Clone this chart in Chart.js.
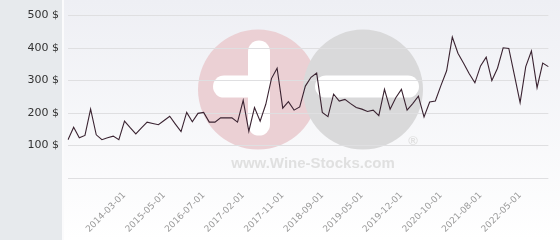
<!DOCTYPE html>
<html>
<head>
<meta charset="utf-8">
<script src="https://cdn.jsdelivr.net/npm/chart.js@4"></script>
<style>
  html, body { margin: 0; padding: 0; background: #fff; }
  #wrap { width: 560px; height: 240px; position: relative; }
</style>
</head>
<body>
<div id="wrap"><canvas id="price-chart"></canvas></div>
<script>
// sale dates (one point per auction result)
const dates = [
  '2012-10-01', '2012-11-01', '2012-12-01', '2013-02-01', '2013-04-01', '2013-05-01', '2013-07-01', '2013-09-01', '2013-11-01', '2014-01-01',
  '2014-03-01', '2014-05-01', '2014-07-01', '2014-09-01', '2014-11-01', '2015-01-01', '2015-03-01',
  '2015-05-01', '2015-07-01', '2015-09-01', '2015-11-01', '2016-01-01', '2016-03-01', '2016-05-01',
  '2016-07-01', '2016-08-01', '2016-09-01', '2016-10-01', '2016-11-01', '2016-12-01', '2017-01-01',
  '2017-02-01', '2017-03-01', '2017-05-01', '2017-06-01', '2017-07-01', '2017-09-01', '2017-10-01',
  '2017-11-01', '2017-12-01', '2018-02-01', '2018-03-01', '2018-05-01', '2018-06-01', '2018-08-01',
  '2018-09-01', '2018-10-01', '2018-11-01', '2019-01-01', '2019-02-01', '2019-03-01', '2019-04-01',
  '2019-05-01', '2019-06-01', '2019-07-01', '2019-08-01', '2019-09-01', '2019-10-01', '2019-11-01',
  '2019-12-01', '2020-01-01', '2020-03-01', '2020-04-01', '2020-06-01', '2020-07-01', '2020-09-01',
  '2020-10-01', '2020-11-01', '2021-01-01', '2021-02-01', '2021-04-01', '2021-05-01', '2021-07-01',
  '2021-08-01', '2021-09-01', '2021-11-01', '2021-12-01', '2022-01-01', '2022-03-01', '2022-04-01',
  '2022-05-01', '2022-06-01', '2022-07-01', '2022-09-01', '2022-10-01', '2022-11-01'
];

// price in $
const prices = [
  118, 156, 124, 131, 212, 133, 118, 124, 129, 118,
  175, 155, 136, 154, 172, 168, 164, 177, 190, 166,
  143, 202, 173, 199, 202, 172, 172, 185, 185, 185,
  172, 239, 144, 217, 175, 227, 306, 338, 215, 235,
  209, 219, 283, 310, 323, 202, 189, 258, 237, 242,
  229, 217, 212, 205, 209, 192, 273, 212, 247, 273,
  209, 229, 252, 188, 234, 237, 285, 330, 434, 384,
  353, 321, 293, 345, 372, 300, 338, 401, 399, 316,
  232, 343, 391, 278, 354, 343
];

// dates that get a label on the x axis
const tickLabels = [
  '2014-03-01', '2015-05-01', '2016-07-01', '2017-02-01', '2017-11-01', '2018-09-01',
  '2019-05-01', '2019-12-01', '2020-10-01', '2021-08-01', '2022-05-01'
];

const yMin = 0;
const yMax = 500;
const yStep = 100;

// background panels + watermark, drawn under the grid
const backdrop = {
  id: 'backdrop',
  beforeDraw(chart) {
    const { ctx, chartArea: a, width, height } = chart;
    const panelRight = a.left - 6;
    ctx.save();
    ctx.fillStyle = '#e7eaed';
    ctx.fillRect(0, 0, panelRight, height);
    ctx.fillStyle = '#fbfbfc';
    ctx.fillRect(panelRight, 0, 2, height);
    const g = ctx.createLinearGradient(0, 0, 0, height);
    g.addColorStop(0, '#eeeff4');
    g.addColorStop(1, '#ffffff');
    ctx.fillStyle = g;
    ctx.fillRect(panelRight + 2, 0, width - panelRight - 2, height);

    // logo
    const cy = a.top + 74;
    const r = 60;
    const cx1 = a.left + 190;
    const cx2 = a.left + 295;
    const bar = 22;
    ctx.fillStyle = '#ebd0d4';
    ctx.beginPath();
    ctx.arc(cx1, cy, r, 0, Math.PI * 2);
    ctx.fill();
    ctx.fillStyle = '#ffffff';
    ctx.beginPath();
    ctx.roundRect(cx1 - 10, cy - 49, bar, 95, bar / 2);
    ctx.fill();
    ctx.beginPath();
    ctx.roundRect(cx1 - 45, cy - 14, 57, bar, bar / 2);
    ctx.fill();
    ctx.fillStyle = '#d9d9da';
    ctx.beginPath();
    ctx.arc(cx2, cy, r, 0, Math.PI * 2);
    ctx.fill();
    ctx.fillStyle = '#ffffff';
    ctx.beginPath();
    ctx.roundRect(cx2 - 48, cy - 14, 104, bar, bar / 2);
    ctx.fill();

    ctx.fillStyle = '#e0e0e0';
    ctx.font = 'bold 15px "Liberation Sans", Arial, sans-serif';
    ctx.textAlign = 'center';
    ctx.textBaseline = 'middle';
    ctx.fillText('www.Wine-Stocks.com', cx1 + 55, a.top + 148);
    ctx.font = 'bold 13px "Liberation Sans", Arial, sans-serif';
    ctx.fillText('®', cx2 + 50, a.top + 126);
    ctx.restore();
  }
};

new Chart(document.getElementById('price-chart'), {
  type: 'line',
  data: {
    labels: dates,
    datasets: [{
      data: prices,
      borderColor: '#3a2331',
      borderWidth: 1.1,
      pointRadius: 0,
      tension: 0,
      fill: false,
    }],
  },
  options: {
    responsive: true,
    maintainAspectRatio: false,
    animation: false,
    layout: { padding: { top: 13, right: 5, left: 0, bottom: 0 } },
    plugins: { legend: { display: false }, tooltip: { enabled: false } },
    scales: {
      x: {
        offset: false,
        grid: { display: false },
        border: { display: false },
        afterFit: (s) => { s.height = 62; },
        ticks: {
          autoSkip: false,
          minRotation: 45,
          maxRotation: 45,
          padding: 4,
          color: '#9a9a9a',
          font: { family: 'DejaVu Sans', size: 9 },
          callback(value) {
            const d = this.getLabelForValue(value);
            return tickLabels.includes(d) ? d : '';
          },
        },
      },
      y: {
        min: yMin,
        max: yMax,
        border: { display: false },
        grid: { color: '#dfdfe1', drawTicks: false },
        afterFit: (s) => { s.width = 68; },
        ticks: {
          stepSize: yStep,
          padding: 9,
          color: '#333333',
          font: { family: 'DejaVu Sans', size: 11 },
          callback: (v) => (v === 0 ? '' : v + ' $'),
        },
      },
    },
  },
  plugins: [backdrop],
});
</script>
</body>
</html>
